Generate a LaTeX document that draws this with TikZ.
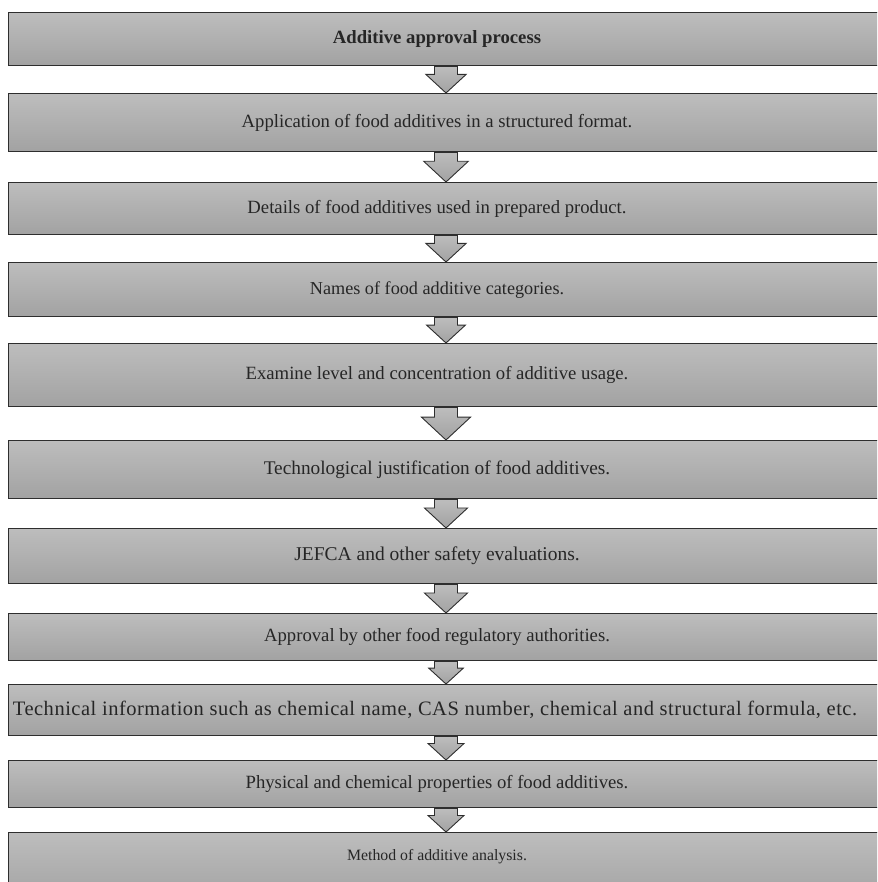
\documentclass[tikz,border=0pt]{standalone}
\usepackage{fontspec}
\setmainfont{Liberation Serif}
\usetikzlibrary{calc}
\definecolor{boxtop}{HTML}{BDBDBD}
\definecolor{boxbot}{HTML}{A2A2A2}
\definecolor{edge}{HTML}{2E2E2E}
\definecolor{ink}{HTML}{262626}
\newcommand\fs[1]{\fontsize{#1}{#1}\selectfont}
\tikzset{
  stagebox/.style={draw=edge, line width=1.4pt, top color=boxtop, bottom color=boxbot,
    minimum width=885pt, anchor=north west, inner sep=0pt},
  stagetext/.style={text=ink, font=\fs{18.7}, inner sep=0pt},
  flowarr/.style={draw=edge, line width=0.9pt, top color=boxtop, bottom color=boxbot},
}
% block arrow from the bottom of box #1 to the top of box #2
\newcommand\flowarrow[2]{%
  \path[flowarr] let \p1=($(#1.south west)+(438pt,0)$), \p2=($(#2.north west)+(438pt,0)$),
    \n1={\y1-\y2}, \n2={0.72*\n1+1pt} in
    (\x1-11.5pt,\y1) -- (\x1-11.5pt,\y1-0.3*\n1) -- (\x1-\n2,\y1-0.3*\n1) --
    (\x1,\y2) -- (\x1+\n2,\y1-0.3*\n1) -- (\x1+11.5pt,\y1-0.3*\n1) -- (\x1+11.5pt,\y1) -- cycle;}
\begin{document}
\begin{tikzpicture}[x=1pt,y=1pt]
\useasboundingbox (0,0) rectangle (877,-882);
\clip (0,0) rectangle (877,-882);
% stage boxes: top edge and height
\node[stagebox, minimum height=53pt] (b1) at (8,-12) {};
\node[stagebox, minimum height=58pt] (b2) at (8,-93) {};
\node[stagebox, minimum height=52pt] (b3) at (8,-182) {};
\node[stagebox, minimum height=54pt] (b4) at (8,-262) {};
\node[stagebox, minimum height=63pt] (b5) at (8,-343) {};
\node[stagebox, minimum height=58pt] (b6) at (8,-440) {};
\node[stagebox, minimum height=55pt] (b7) at (8,-528) {};
\node[stagebox, minimum height=47pt] (b8) at (8,-613) {};
\node[stagebox, minimum height=51pt] (b9) at (8,-684) {};
\node[stagebox, minimum height=47pt] (b10) at (8,-760) {};
\node[stagebox, minimum height=70pt] (b11) at (8,-832) {};
% stage labels
\node[stagetext, font=\fs{18.7}\bfseries] (t1) at ($(b1.west)+(429,0)$) {Additive approval process};
\node[stagetext] (t2) at ($(b2.west)+(429,0)$) {Application of food additives in a structured format.};
\node[stagetext] (t3) at ($(b3.west)+(429,0)$) {Details of food additives used in prepared product.};
\node[stagetext, font=\fs{18.2}] (t4) at ($(b4.west)+(429,0)$) {Names of food additive categories.};
\node[stagetext] (t5) at ($(b5.west)+(429,0)$) {Examine level and concentration of additive usage.};
\node[stagetext, font=\fs{19.3}] (t6) at ($(b6.west)+(429,0)$) {Technological justification of food additives.};
\node[stagetext, font=\fs{19.5}] (t7) at ($(b7.west)+(429,0)$) {JEFCA and other safety evaluations.};
\node[stagetext] (t8) at ($(b8.west)+(429,0)$) {Approval by other food regulatory authorities.};
\node[stagetext, font=\fs{20.5}\addfontfeature{LetterSpace=2.5}] (t9) at ($(b9.west)+(427,0)$) {Technical information such as chemical name, CAS number, chemical and structural formula, etc.};
\node[stagetext] (t10) at ($(b10.west)+(429,0)$) {Physical and chemical properties of food additives.};
\node[stagetext, font=\fs{15.8}] (t11) at ($(b11.north west)+(429,-25)$) {Method of additive analysis.};
% arrows between consecutive stages
\flowarrow{b1}{b2}
\flowarrow{b2}{b3}
\flowarrow{b3}{b4}
\flowarrow{b4}{b5}
\flowarrow{b5}{b6}
\flowarrow{b6}{b7}
\flowarrow{b7}{b8}
\flowarrow{b8}{b9}
\flowarrow{b9}{b10}
\flowarrow{b10}{b11}
\end{tikzpicture}
\end{document}
